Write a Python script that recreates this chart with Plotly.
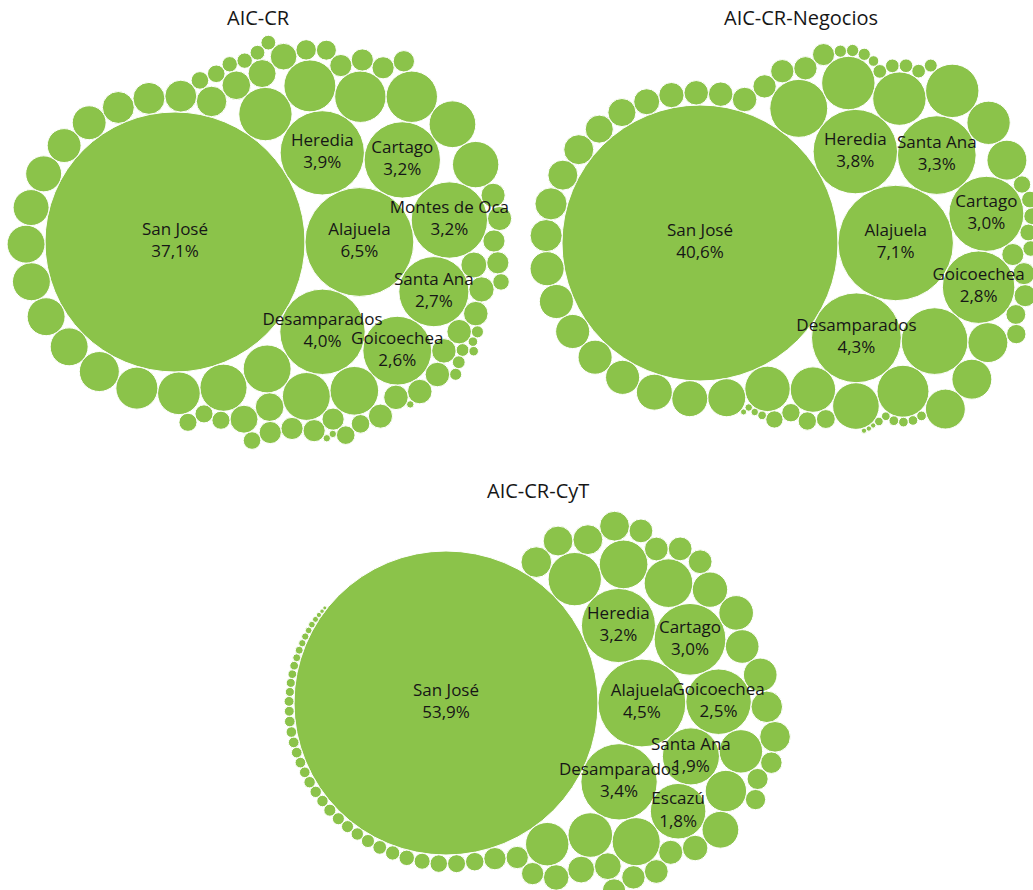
import math
import plotly.graph_objects as go

# ------------------------------------------------------------------ data
titles = ["AIC-CR", "AIC-CR-Negocios", "AIC-CR-CyT"]

cr_names = ["San José", "Alajuela", "Desamparados", "Heredia", "Cartago",
            "Montes de Oca", "Santa Ana", "Goicoechea"]
cr_values = [37.1, 6.5, 4.0, 3.9, 3.2, 3.2, 2.7, 2.6]
cr_other = [1.56, 1.48, 1.45, 1.45, 1.30, 1.26, 1.26, 1.22, 1.20, 1.18,
            1.00, 0.97, 0.88, 0.79, 0.79, 0.79, 0.79, 0.71, 0.71, 0.63, 0.63,
            0.56, 0.56, 0.56, 0.51,
            0.45, 0.45, 0.43, 0.43, 0.39, 0.37, 0.35, 0.33, 0.33, 0.33, 0.33, 0.33,
            0.33, 0.32, 0.32, 0.32, 0.27, 0.27, 0.27, 0.27, 0.27, 0.27, 0.27, 0.27,
            0.27, 0.25, 0.23, 0.22, 0.19, 0.19, 0.18, 0.18, 0.18, 0.17, 0.17, 0.17,
            0.15, 0.13, 0.13, 0.12, 0.12, 0.09, 0.09, 0.08, 0.08, 0.05, 0.05,
            0.03, 0.03, 0.03]

neg_names = ["San José", "Alajuela", "Desamparados", "Heredia", "Santa Ana",
             "Cartago", "Goicoechea"]
neg_values = [40.6, 7.1, 4.3, 3.8, 3.3, 3.0, 2.8]
neg_other = [2.37, 1.79, 1.52, 1.52, 1.52, 1.44, 1.16, 1.10, 1.10, 1.00, 0.85, 0.85,
             0.85, 0.85, 0.77, 0.69, 0.69, 0.62, 0.62, 0.62, 0.62, 0.62, 0.55, 0.55,
             0.48, 0.48, 0.42, 0.42, 0.36, 0.34, 0.32, 0.32, 0.32, 0.29, 0.29, 0.29,
             0.26, 0.26, 0.26, 0.26, 0.21, 0.20, 0.19, 0.18, 0.18, 0.16, 0.16, 0.15,
             0.15, 0.15, 0.13, 0.10, 0.10, 0.10, 0.10, 0.09, 0.08, 0.08, 0.08, 0.06,
             0.05, 0.05, 0.05, 0.05, 0.04, 0.04, 0.04, 0.03, 0.03, 0.02, 0.015,
             0.015, 0.015]

cyt_names = ["San José", "Alajuela", "Desamparados", "Heredia", "Cartago",
             "Goicoechea", "Santa Ana", "Escazú"]
cyt_values = [53.9, 4.5, 3.4, 3.2, 3.0, 2.5, 1.9, 1.8]
cyt_other = [1.66, 1.38, 1.38, 1.35, 1.16, 1.10, 1.10, 1.00, 0.79, 0.73, 0.70, 0.66,
             0.66, 0.58, 0.55, 0.55, 0.52, 0.52, 0.52, 0.42, 0.42, 0.38, 0.38, 0.34,
             0.33, 0.33, 0.33, 0.33, 0.33, 0.32, 0.32, 0.29, 0.29, 0.29, 0.27, 0.26,
             0.24, 0.20, 0.19, 0.18, 0.15, 0.14, 0.12, 0.11, 0.10, 0.09, 0.085, 0.085,
             0.085, 0.076, 0.076, 0.076, 0.066, 0.066, 0.066, 0.066, 0.066, 0.066,
             0.057, 0.057, 0.048, 0.048, 0.044, 0.044, 0.037, 0.037, 0.031, 0.031,
             0.026, 0.026, 0.021, 0.016, 0.012, 0.0095]

# ------------------------------------------------------------------ styling / layout
GREEN = "#8BC34A"
FONT = "Open Sans, Noto Sans, sans-serif"
W, H = 1033, 890
panels = [
    dict(box=(0, 0, 520, 470), anchor=(175, 242), rpx=130, title_xy=(258, 17)),
    dict(box=(520, 0, 1033, 470), anchor=(700, 243), rpx=138, title_xy=(801, 17)),
    dict(box=(0, 470, 1033, 890), anchor=(446, 703), rpx=152, title_xy=(538, 490)),
]


# ------------------------------------------------------------------ progressive circle packing
# Front-chain algorithm (Wang et al. 2006): each circle is placed tangent to the
# chain circle closest to the origin and its successor; overlaps shrink the chain.
def pack_progressive(values):
    R = [math.sqrt(v) for v in values]
    n = len(R)
    X = [0.0] * n
    Y = [0.0] * n
    X[0] = -R[0]
    if n == 1:
        return X, Y, R
    X[1] = R[1]
    if n == 2:
        return X, Y, R

    def place(p, q, c):
        dx, dy = X[q] - X[p], Y[q] - Y[p]
        d = math.hypot(dx, dy)
        rp, rq = R[p] + R[c], R[q] + R[c]
        a = (rp * rp - rq * rq + d * d) / (2 * d)
        h = math.sqrt(max(0.0, rp * rp - a * a))
        X[c] = X[p] + a * dx / d - h * dy / d
        Y[c] = Y[p] + a * dy / d + h * dx / d

    def overlaps(p, c):
        d = math.hypot(X[p] - X[c], Y[p] - Y[c])
        return d < (R[p] + R[c]) * (1 - 1e-7)

    place(0, 1, 2)
    nxt = {0: 2, 2: 1, 1: 0}
    prv = {2: 0, 1: 2, 0: 1}
    i = 3
    cm = cn = None
    while i < n:
        if cm is None:
            start = i - 1
            chain = [start]
            k = nxt[start]
            while k != start:
                chain.append(k)
                k = nxt[k]
            cm = min(chain, key=lambda q: X[q] * X[q] + Y[q] * Y[q])
            cn = nxt[cm]
        place(cm, cn, i)
        j = nxt[cn]
        s1 = 1
        found = None
        while j != cn:
            if j != cm and overlaps(j, i):
                found = j
                break
            j = nxt[j]
            s1 += 1
        if found is not None:
            k = prv[cm]
            s2 = 1
            while k != cm:
                if k != cn and overlaps(k, i):
                    break
                k = prv[k]
                s2 += 1
            if s1 < s2 or (s1 == s2 and R[cn] < R[cm]):
                nxt[cm] = found
                prv[found] = cm
                cn = found
            else:
                nxt[k] = cn
                prv[cn] = k
                cm = k
            continue
        nxt[cm] = i
        prv[i] = cm
        nxt[i] = cn
        prv[cn] = i
        cm = cn = None
        i += 1
    return X, Y, R


def build(names, values, other):
    items = [dict(name=nm, v=v) for nm, v in zip(names, values)]
    items += [dict(name=None, v=v) for v in other]
    items = sorted(items, key=lambda d: -d["v"])
    X, Y, R = pack_progressive([it["v"] for it in items])
    for it, x, y, rr in zip(items, X, Y, R):
        it["x"], it["y"], it["r"] = x, y, rr
    return items


datasets = [(cr_names, cr_values, cr_other),
            (neg_names, neg_values, neg_other),
            (cyt_names, cyt_values, cyt_other)]

fig = go.Figure()
shapes = []
annotations = []
layout_axes = {}

for idx, ((names, values, other), panel) in enumerate(zip(datasets, panels)):
    circles = build(names, values, other)
    sfx = "" if idx == 0 else str(idx + 1)
    xref, yref = "x" + sfx, "y" + sfx

    big = circles[0]
    s = panel["rpx"] / big["r"]
    X0, Y0, X1, Y1 = panel["box"]
    px, py = panel["anchor"]
    xr = [big["x"] - (px - X0) / s, big["x"] + (X1 - px) / s]
    yr = [big["y"] + (Y1 - py) / s, big["y"] - (py - Y0) / s]

    layout_axes["xaxis" + sfx] = dict(domain=[X0 / W, X1 / W], range=xr, visible=False,
                                      fixedrange=True, anchor=yref)
    layout_axes["yaxis" + sfx] = dict(domain=[1 - Y1 / H, 1 - Y0 / H], range=yr,
                                      visible=False, fixedrange=True, anchor=xref)

    for c in circles:
        shapes.append(dict(type="circle", xref=xref, yref=yref, layer="below",
                           x0=c["x"] - c["r"], x1=c["x"] + c["r"],
                           y0=c["y"] - c["r"], y1=c["y"] + c["r"],
                           fillcolor=GREEN, line=dict(color="white", width=1)))

    lab = [c for c in circles if c["name"]]
    fig.add_trace(go.Scatter(
        x=[c["x"] for c in lab], y=[c["y"] for c in lab],
        mode="text",
        text=[f"{c['name']}<br>{c['v']:.1f}%".replace(".", ",") for c in lab],
        textposition="middle center",
        textfont=dict(family=FONT, size=17, color="#161616"),
        xaxis=xref, yaxis=yref, hoverinfo="skip", showlegend=False))

    tx, ty = panel["title_xy"]
    annotations.append(dict(text=titles[idx], x=tx / W, y=1 - ty / H, xref="paper",
                            yref="paper", xanchor="center", yanchor="middle",
                            showarrow=False,
                            font=dict(family=FONT, size=20, color="#161616")))

fig.update_layout(
    width=W, height=H,
    margin=dict(l=0, r=0, t=0, b=0),
    paper_bgcolor="white", plot_bgcolor="rgba(0,0,0,0)",
    shapes=shapes, annotations=annotations, showlegend=False,
    **layout_axes,
)

fig.write_html("out.html", config={"displayModeBar": False},
               post_script="document.body.style.margin='0';document.body.style.padding='0';"
                           "document.documentElement.style.overflow='hidden';")
